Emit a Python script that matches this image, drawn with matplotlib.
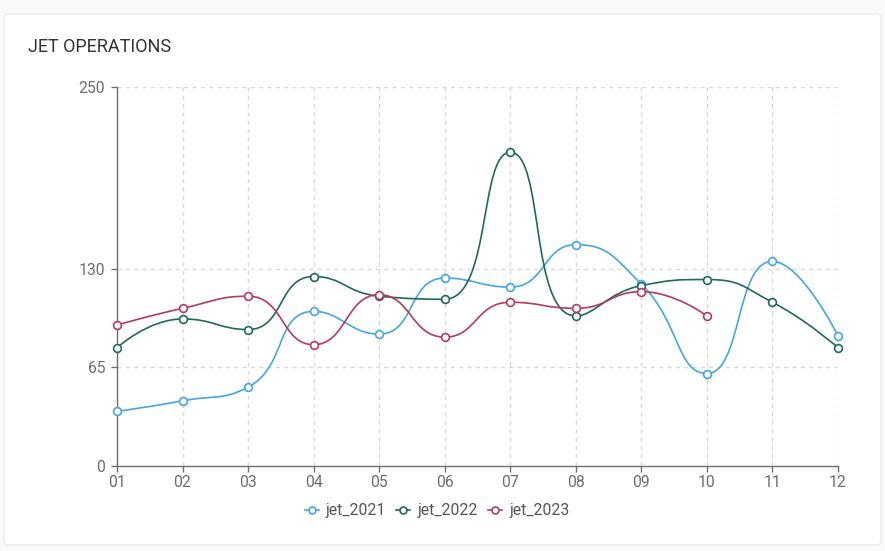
import matplotlib
matplotlib.use("Agg")
import matplotlib.pyplot as plt
import numpy as np
from matplotlib.path import Path
from matplotlib.patches import PathPatch, FancyBboxPatch
from matplotlib.lines import Line2D

plt.rcParams['font.family'] = ['Roboto', 'DejaVu Sans']

months = ["01", "02", "03", "04", "05", "06", "07", "08", "09", "10", "11", "12"]
jet_2021 = [36, 43, 52, 102, 87, 124, 118, 146, 120, 61, 135, 86]
jet_2022 = [78, 97, 90, 125, 112, 110, 207, 99, 119, 123, 108, 78]
jet_2023 = [93, 104, 112, 80, 113, 85, 108, 104, 115, 99]
series_names = ["jet_2021", "jet_2022", "jet_2023"]
series_vals = [jet_2021, jet_2022, jet_2023]
colors = ["#45a6e3", "#1f6a5c", "#b23a63"]
yticks = [0, 65, 130, 250]

W, H = 885, 551
fig = plt.figure(figsize=(W / 100, H / 100), dpi=100)
fig.patch.set_facecolor("#fafafa")
card = FancyBboxPatch((4 / W, 6 / H), (W - 8) / W, (H - 20) / H,
                      boxstyle="round,pad=0,rounding_size=0.006",
                      transform=fig.transFigure, facecolor="white",
                      edgecolor="#ececec", linewidth=1.0, zorder=-10)
fig.patches.append(card)

ax = fig.add_axes([117 / W, 1 - 466 / H, (838 - 117) / W, (466 - 87) / H])
ax.set_zorder(2)
ax.set_facecolor("none")
ax.set_xlim(0, len(months) - 1)
ax.set_ylim(0, 250)

fig.text(28 / W, 1 - 47 / H, "JET OPERATIONS", fontsize=13, color="#333333",
         va="center", ha="left")


def smooth_path(xs, ys, smooth=0.5):
    pts = ax.transData.transform(np.column_stack([xs, ys]))
    n = len(pts)
    verts = [pts[0]]
    codes = [Path.MOVETO]
    cps = []
    for i in range(n):
        p = pts[i]
        if i == 0 or i == n - 1:
            cps.append((p.copy(), p.copy()))
            continue
        prev, nxt = pts[i - 1], pts[i + 1]
        v = nxt - prev
        d0 = np.hypot(*(p - prev))
        d1 = np.hypot(*(nxt - p))
        r = d1 / (d0 + d1)
        cout = p + v * smooth * r
        cout = np.minimum(cout, np.maximum(nxt, p))
        cout = np.maximum(cout, np.minimum(nxt, p))
        vv = cout - p
        cin = p - vv * d0 / d1
        cin = np.minimum(cin, np.maximum(prev, p))
        cin = np.maximum(cin, np.minimum(prev, p))
        vv = p - cin
        cout = p + vv * d1 / d0
        cps.append((cin, cout))
    for i in range(n - 1):
        verts += [cps[i][1], cps[i + 1][0], pts[i + 1]]
        codes += [Path.CURVE4] * 3
    verts = ax.transData.inverted().transform(np.array(verts))
    return Path(verts, codes)


for name, vals, c in zip(series_names, series_vals, colors):
    xs = np.arange(len(vals))
    path = smooth_path(xs, vals)
    ax.add_patch(PathPatch(path, facecolor="none", edgecolor=c, lw=1.2, zorder=3))
    ax.plot(xs, vals, linestyle="none", marker="o", ms=5.6, mfc="white",
            mec=c, mew=1.2, zorder=4, clip_on=False)

ax.set_xticks(range(len(months)))
ax.set_xticklabels(months)
ax.set_yticks(yticks)
ax.set_yticklabels([str(t) for t in yticks])
ax.tick_params(axis="both", colors="#6e6e6e", labelsize=11.3, length=4.5, width=1,
               labelcolor="#6e6e6e")
ax.tick_params(axis="x", pad=2)
ax.tick_params(axis="y", pad=4)
for s in ["top", "right"]:
    ax.spines[s].set_visible(False)
for s in ["left", "bottom"]:
    ax.spines[s].set_color("#6e6e6e")
    ax.spines[s].set_linewidth(1)

for t in yticks[1:]:
    ax.axhline(t, color="#d9d9d9", lw=1, ls=(0, (3, 3)), zorder=1)
for i in range(1, len(months)):
    ax.axvline(i, color="#d9d9d9", lw=1, ls=(0, (3, 3)), zorder=1)

handles = [Line2D([0], [0], color=c, lw=1.2, marker="o", ms=5, mfc="white",
                  mec=c, mew=1.2) for c in colors]
fig.legend(handles, series_names, loc="center", bbox_to_anchor=(437 / W, 1 - 511 / H),
           ncol=3, frameon=False, fontsize=11.3, handlelength=0.9,
           handletextpad=0.45, columnspacing=0.65, labelcolor="#555555")

fig.savefig("out.png", dpi=100)
